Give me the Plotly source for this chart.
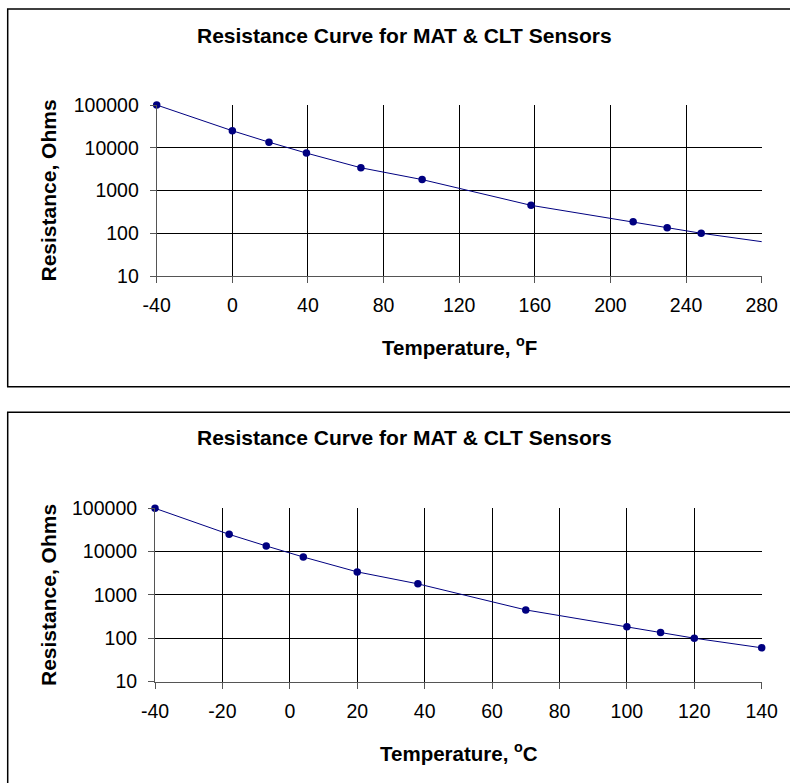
import plotly.graph_objects as go

# sensor table
temp_f = [-40, 0, 19.4, 39.2, 68, 100.4, 158, 212, 230, 248, 284]
temp_c = [-40, -18, -7, 4, 20, 38, 70, 100, 110, 120, 140]
resistance = [100000, 25000, 13500, 7500, 3400, 1800, 450, 185, 135, 100, 60]

y_ticks = [10, 100, 1000, 10000, 100000]
y_ticktext = ["10", "100", "1000", "10000", "100000"]
f_ticks = [-40, 0, 40, 80, 120, 160, 200, 240, 280]
c_ticks = [-40, -20, 0, 20, 40, 60, 80, 100, 120, 140]

TITLE = "Resistance Curve for MAT & CLT Sensors"
FONT = "Liberation Sans, Arial, sans-serif"
NAVY = "#000080"
W, H = 790, 783


def px(x):
    return x / W


def py(y):
    return 1 - y / H


fig = go.Figure()

# top chart (Fahrenheit): line runs past 280 and gets clipped, markers only inside range
fig.add_trace(go.Scatter(x=temp_f, y=resistance, mode="lines",
                         line=dict(color=NAVY, width=1), xaxis="x", yaxis="y"))
inside = [(t, r) for t, r in zip(temp_f, resistance) if t <= f_ticks[-1]]
fig.add_trace(go.Scatter(x=[t for t, _ in inside], y=[r for _, r in inside], mode="markers",
                         marker=dict(color=NAVY, size=7.5), cliponaxis=False,
                         xaxis="x", yaxis="y"))

# bottom chart (Celsius)
fig.add_trace(go.Scatter(x=temp_c, y=resistance, mode="lines+markers",
                         line=dict(color=NAVY, width=1),
                         marker=dict(color=NAVY, size=7.5), cliponaxis=False,
                         xaxis="x2", yaxis="y2"))

axis_common = dict(
    showgrid=True, gridcolor="#000000", gridwidth=1,
    showline=True, linecolor="#555555", linewidth=1, mirror=False,
    ticks="outside", ticklen=6, tickcolor="#555555",
    tickfont=dict(family=FONT, size=19.5, color="#000000"),
    zeroline=False, automargin=False, fixedrange=True,
)

fig.update_layout(
    width=W, height=H,
    margin=dict(l=0, r=0, t=0, b=0),
    paper_bgcolor="white", plot_bgcolor="white",
    showlegend=False,
    font=dict(family=FONT, color="#000000"),
    xaxis=dict(domain=[px(156.7), px(761.7)], range=[-40, 280], tickvals=f_ticks,
               ticktext=[str(t) for t in f_ticks], anchor="y", ticklabelstandoff=6,
               **axis_common),
    yaxis=dict(domain=[py(276), py(105)], type="log", range=[1, 5], tickvals=y_ticks,
               ticktext=y_ticktext, anchor="x", ticklabelstandoff=7, **axis_common),
    xaxis2=dict(domain=[px(155), px(761.7)], range=[-40, 140], tickvals=c_ticks,
                ticktext=[str(t) for t in c_ticks], anchor="y2", ticklabelstandoff=6,
                **axis_common),
    yaxis2=dict(domain=[py(681.5), py(508.3)], type="log", range=[1, 5], tickvals=y_ticks,
                ticktext=y_ticktext, anchor="x2", ticklabelstandoff=7, **axis_common),
)

# outer chart boxes
for top, bottom in [(9, 386.7), (412.3, 800)]:
    fig.add_shape(type="rect", xref="paper", yref="paper",
                  x0=px(7.7), x1=px(800), y0=py(bottom), y1=py(top),
                  line=dict(color="#000000", width=1.5), fillcolor="rgba(0,0,0,0)")

for title_y, ytitle_y, xtitle_y, unit in [(35, 190.5, 346, "F"), (438, 595, 752, "C")]:
    fig.add_annotation(text="<b>" + TITLE + "</b>", xref="paper", yref="paper",
                       x=px(405), y=py(title_y), showarrow=False,
                       font=dict(family=FONT, size=21, color="#000000"),
                       xanchor="center", yanchor="middle")
    fig.add_annotation(text="<b>Resistance, Ohms</b>", xref="paper", yref="paper",
                       x=px(48), y=py(ytitle_y), showarrow=False, textangle=-90,
                       font=dict(family=FONT, size=21, color="#000000"),
                       xanchor="center", yanchor="middle")
    fig.add_annotation(text="<b>Temperature, <sup>o</sup>" + unit + "</b>", xref="paper",
                       yref="paper", x=px(459), y=py(xtitle_y), showarrow=False,
                       font=dict(family=FONT, size=20.5, color="#000000"),
                       xanchor="center", yanchor="middle")

fig.write_html("out.html", config={"displayModeBar": False},
               post_script="document.body.style.margin='0';document.body.style.overflow='hidden';")
